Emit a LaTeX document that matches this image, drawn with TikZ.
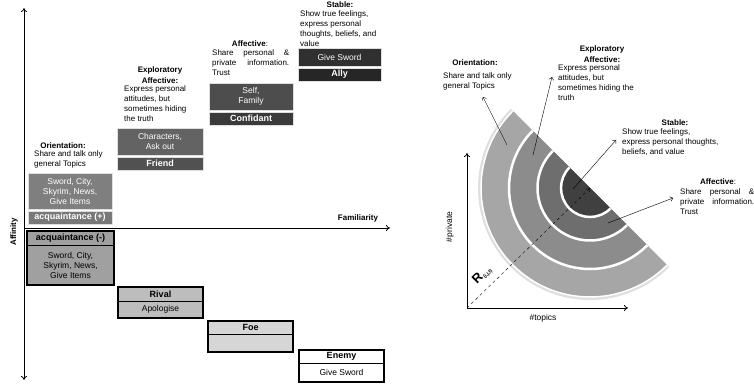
\documentclass[tikz,border=0pt]{standalone}
\usepackage{fontspec}
\setmainfont{Liberation Sans}
\usetikzlibrary{arrows.meta}

\definecolor{posA}{HTML}{7F7F7F}
\definecolor{posAb}{HTML}{787878}
\definecolor{posB}{HTML}{636363}
\definecolor{posBb}{HTML}{515151}
\definecolor{posC}{HTML}{4D4D4D}
\definecolor{posCb}{HTML}{3A3A3A}
\definecolor{posD}{HTML}{303030}
\definecolor{posDb}{HTML}{262626}
\definecolor{negA}{HTML}{A0A0A0}
\definecolor{negB}{HTML}{BDBDBD}
\definecolor{negC}{HTML}{D6D6D6}
\definecolor{ringA}{HTML}{A6A6A6}
\definecolor{ringB}{HTML}{8C8C8C}
\definecolor{ringC}{HTML}{6E6E6E}
\definecolor{ringD}{HTML}{404040}

\begin{document}
\begin{tikzpicture}[x=1pt,y=1pt,
        txt/.style={inner sep=0pt,font=\fontsize{8}{10}\selectfont,align=left,anchor=north west},
        ttl/.style={inner sep=0pt,font=\fontsize{8}{11}\selectfont\bfseries,align=center},
        posbox/.style={draw=gray!25,text=white,inner sep=1pt,align=center,
            font=\fontsize{8.5}{10}\selectfont},
        posbar/.style={posbox,font=\fontsize{9}{10}\selectfont\bfseries},
        negbox/.style={draw=black,inner sep=1pt,align=center,
            font=\fontsize{8.5}{10}\selectfont},
        negbar/.style={negbox,font=\fontsize{9}{10}\selectfont\bfseries},
        ax/.style={thick,-{To[length=4pt,width=6pt]}}]
\useasboundingbox (0,0) rectangle (754,385);

% left: affinity / familiarity
\coordinate (affbot) at (24,5);
\coordinate (afftop) at (24,377);
\coordinate (famstart) at (24,157);
\coordinate (famend) at (390,157);
\draw[thick,{To[length=4pt,width=6pt]}-{To[length=4pt,width=6pt]}] (affbot) -- (afftop);
\draw[ax] (famstart) -- (famend);
\node[ttl] (famlabel) at (358,167) {Familiarity};
\node[ttl,rotate=90] (afflabel) at (14,153) {Affinity};

\node[posbox,fill=posA,minimum width=84pt,minimum height=36pt] (acqpos) at (70,194) {Sword, City,\\Skyrim, News,\\Give Items};
\node[posbar,fill=posAb,minimum width=84pt,minimum height=13pt] (acqposbar) at (70,167.5) {acquaintance (+)};
\node[posbox,fill=posB,minimum width=86pt,minimum height=27pt] (friend) at (160,243.5) {Characters,\\Ask out};
\node[posbar,fill=posBb,minimum width=86pt,minimum height=13pt] (friendbar) at (160,221.5) {Friend};
\node[posbox,fill=posC,minimum width=84pt,minimum height=27pt] (confidant) at (251,288.5) {Self,\\Family};
\node[posbar,fill=posCb,minimum width=84pt,minimum height=13pt] (confidantbar) at (251,266.5) {Confidant};
\node[posbox,fill=posD,minimum width=83pt,minimum height=18pt] (ally) at (339.5,328) {Give Sword};
\node[posbar,fill=posDb,minimum width=83pt,minimum height=13pt] (allybar) at (339.5,310.5) {Ally};

\node[ttl] (orient) at (63,239) {Orientation:};
\node[txt] (orienttxt) at (34,234.5) {Share and talk only\\general Topics};
\node[ttl] (explor) at (160,310) {Exploratory\\Affective:};
\node[txt] (explortxt) at (124,299.5) {Express personal\\attitudes, but\\sometimes hiding\\the truth};
\node[ttl] (affect) at (250,341) {Affective\textmd{:}};
\node[txt,text width=77pt,align=justify] (affecttxt) at (212,335.5) {Share personal \&\linebreak private information.\linebreak Trust};
\node[ttl] (stable) at (340,380) {Stable:};
\node[txt] (stabletxt) at (300,374.5) {Show true feelings,\\express personal\\thoughts, beliefs, and\\value};

\node[negbar,fill=negA,minimum width=87pt,minimum height=14pt] (acqnegbar) at (70.5,147) {acquaintance (-)};
\node[negbox,fill=negA,minimum width=87pt,minimum height=40pt] (acqneg) at (70.5,120) {Sword, City,\\Skyrim, News,\\Give Items};
\draw[line width=1.8pt] (acqnegbar.north west) rectangle (acqneg.south east);
\node[negbar,fill=negB,minimum width=85pt,minimum height=14pt] (rivalbar) at (160.5,91) {Rival};
\node[negbox,fill=negB,minimum width=85pt,minimum height=17pt] (rival) at (160.5,75.5) {Apologise};
\draw[line width=1.8pt] (rivalbar.north west) rectangle (rival.south east);
\node[negbar,fill=negC,minimum width=85pt,minimum height=13pt] (foebar) at (250.5,57.5) {Foe};
\node[negbox,fill=negC,minimum width=85pt,minimum height=18pt] (foe) at (250.5,42) {};
\draw[line width=1.8pt] (foebar.north west) rectangle (foe.south east);
\node[negbar,fill=white,minimum width=85pt,minimum height=13pt] (enemybar) at (341.5,28.5) {Enemy};
\node[negbox,fill=white,minimum width=85pt,minimum height=19pt] (enemy) at (341.5,12.5) {Give Sword};
\draw[line width=1.8pt] (enemybar.north west) rectangle (enemy.south east);

% right: rings of penetration
\coordinate (C) at (590,197);
\draw[gray!25,line width=3pt] (C) ++(135:110.5) arc[start angle=135,end angle=315,radius=110.5];
\fill[ringA] (C) ++(135:109) arc[start angle=135,end angle=315,radius=109] -- cycle;
\draw[white,line width=1.5pt] (C) ++(135:109) arc[start angle=135,end angle=315,radius=109];
\foreach \r/\c in {81/ringB,52.5/ringC,29/ringD}{
  \fill[\c] (C) ++(135:\r) arc[start angle=135,end angle=315,radius=\r] -- cycle;
  \draw[white,line width=2.5pt] (C) ++(135:\r) arc[start angle=135,end angle=315,radius=\r];
}

\coordinate (O) at (467,77);
\coordinate (privend) at (467,232);
\coordinate (topend) at (628,77);
\draw[ax] (O) -- (privend);
\draw[ax] (O) -- (topend);
\node[font=\fontsize{8.5}{10}\selectfont,rotate=90] (privlabel) at (450,158) {\#private};
\node[font=\fontsize{8.5}{10}\selectfont] (toplabel) at (543,67) {\#topics};
\draw[dashed,-{To[length=3pt,width=5pt]}] (O) -- (C);
\node[rotate=45,inner sep=0pt,font=\bfseries] (rlabel) at (482,110) {{\fontsize{13}{13}\selectfont R}\raisebox{-0.4ex}{\fontsize{5}{5}\selectfont(i,j,t)}};

\coordinate (orientpt) at (507,240);
\coordinate (orienttip) at (483,288);
\coordinate (explorpt) at (533,230);
\coordinate (explortip) at (552,308);
\coordinate (stablept) at (573,196);
\coordinate (stabletip) at (616,245);
\coordinate (affectpt) at (608,162);
\coordinate (affecttip) at (673,187);
\foreach \a in {orient,explor,stable,affect}
  \draw[-{To[length=3pt,width=5pt]}] (\a pt) -- (\a tip);

\node[ttl] (rorient) at (475,322) {Orientation:};
\node[txt] (rorienttxt) at (443,312.5) {Share and talk only\\general Topics};
\node[ttl] (rexplor) at (602,331) {Exploratory\\Affective:};
\node[txt] (rexplortxt) at (558,320.5) {Express personal\\attitudes, but\\sometimes hiding the\\truth};
\node[ttl] (rstable) at (675,262) {Stable:};
\node[txt] (rstabletxt) at (622,256.5) {Show true feelings,\\express personal thoughts,\\beliefs, and value};
\node[ttl] (raffect) at (718,203) {Affective\textmd{:}};
\node[txt,text width=74pt,align=justify] (raffecttxt) at (680,196.5) {Share personal \&\linebreak private information.\linebreak Trust};

\end{tikzpicture}
\end{document}
